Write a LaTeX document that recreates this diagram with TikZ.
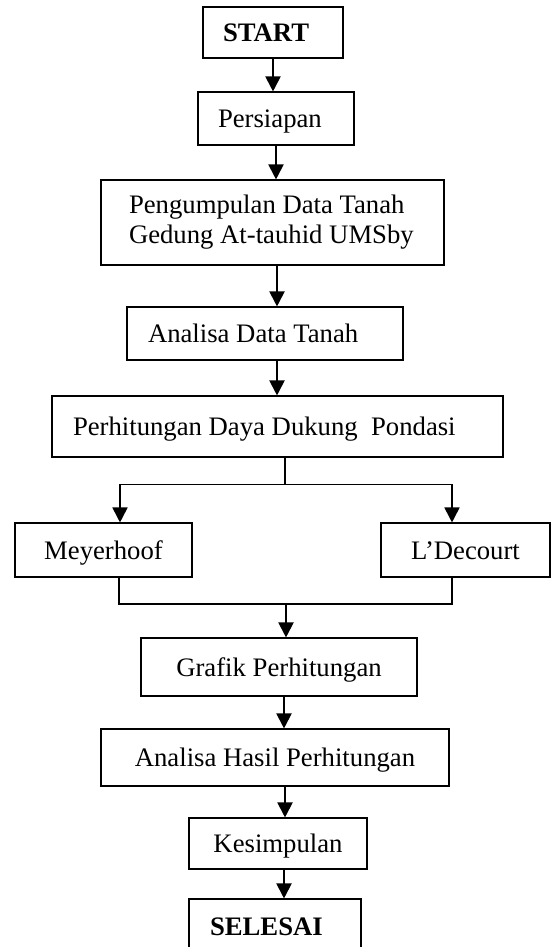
\documentclass[tikz,border=0pt]{standalone}
\usepackage{fontspec}
\setmainfont{Liberation Serif}
\usetikzlibrary{arrows.meta, positioning, calc}

\begin{document}
\begin{tikzpicture}[
    x=1pt, y=1pt,
    font=\fontsize{26.7}{30}\selectfont,
    arr/.style={-{Triangle[length=15pt, width=15pt]}, line width=2pt},
    link/.style={line width=1.4pt},
    box/.style={draw, line width=1.1pt, inner sep=0pt, align=center,
                text height=18pt, text depth=0pt},
    lbox/.style={box, align=flush left, inner xsep=20pt}
  ]
  \useasboundingbox (0,0) rectangle (553,-947);

  \node[lbox, text width=100pt, minimum height=51pt] (start) at (273,-32.5)
        {\textbf{START}};
  \node[lbox, text width=116pt, minimum height=53pt] (siap) at (276,-118.5)
        {Persiapan};
  \node[lbox, text height=, text depth=, inner xsep=28pt, text width=287pt,
        minimum height=85pt] (kumpul) at (272.5,-222.5)
        {Pengumpulan Data Tanah\\Gedung At-tauhid UMSby};
  \node[lbox, inner xsep=21pt, text width=234pt, minimum height=53pt] (analisa)
        at (265,-333.5) {Analisa Data Tanah};
  \node[lbox, inner xsep=21pt, text width=409pt, minimum height=61pt] (hitung)
        at (277.5,-426.5) {Perhitungan Daya Dukung\ \ Pondasi};
  \node[box, minimum width=177pt, minimum height=54pt] (meyer) at (103.5,-550)
        {Meyerhoof};
  \node[box, minimum width=169pt, minimum height=54pt] (decourt) at (465.5,-550)
        {L’Decourt};
  \node[box, minimum width=276pt, minimum height=58pt] (grafik) at (279,-667)
        {Grafik Perhitungan};
  \node[box, minimum width=348pt, minimum height=57pt] (hasil) at (275,-757.5)
        {Analisa Hasil Perhitungan};
  \node[box, minimum width=178pt, minimum height=51pt] (simpul) at (278,-843.5)
        {Kesimpulan};
  \node[lbox, inner xsep=21pt, text width=130pt, minimum height=55pt] (selesai)
        at (275,-926.5) {\textbf{SELESAI}};

  \draw[arr] (start.south) -- (start.south |- siap.north);
  \draw[arr] (siap.south) -- (siap.south |- kumpul.north);
  \draw[arr] ([xshift=4.5pt]kumpul.south) -- ([xshift=4.5pt]kumpul.south |- analisa.north);
  \draw[arr] ([xshift=12pt]analisa.south) -- ([xshift=12pt]analisa.south |- hitung.north);

  % cabang ke dua metode
  \draw[line width=1.2pt] ([xshift=7.5pt]hitung.south) -- ++(0,-27) coordinate (fork);
  \draw[arr, line width=1.8pt] (fork) -| ([xshift=16.5pt]meyer.north);
  \draw[arr, line width=1.8pt] (fork) -| ([xshift=-13.5pt]decourt.north);

  % gabung kembali
  \coordinate (join) at ([xshift=7pt]grafik.north |- 0,-604);
  \draw[link] ([xshift=15.5pt]meyer.south) |- (join);
  \draw[link] ([xshift=-13.5pt]decourt.south) |- (join);
  \draw[arr] (join) -- ([xshift=7pt]grafik.north);

  \draw[arr] ([xshift=5pt]grafik.south) -- ([xshift=5pt]grafik.south |- hasil.north);
  \draw[arr] ([xshift=10pt]hasil.south) -- ([xshift=10pt]hasil.south |- simpul.north);
  \draw[arr] ([xshift=6pt]simpul.south) -- ([xshift=6pt]simpul.south |- selesai.north);
\end{tikzpicture}
\end{document}
